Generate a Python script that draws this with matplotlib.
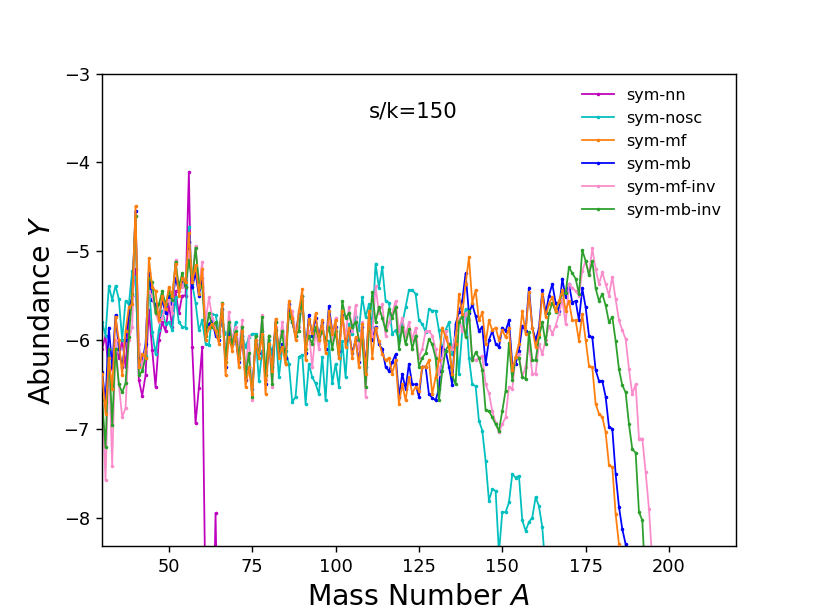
import numpy as np
import matplotlib.pyplot as plt

A0 = 30  # first mass number in every series

sym_nn = [
    -6.10, -5.95, -6.40, -6.30, -6.10, -6.20, -6.00, -6.30, -5.78, -5.50,
    -5.20, -6.45, -6.63, -6.40, -5.66, -6.11, -6.53, -6.00, -5.80, -5.90,
    -5.60, -5.85, -5.45, -5.70, -5.50, -5.50, -4.11, -6.08, -6.94, -6.54,
    -6.08, -9.00, -10.0, -10.0, -7.95, -10.0,
]

sym_nosc = [
    -5.80, -5.95, -5.39, -5.55, -5.39, -5.54, -6.00, -5.56, -5.60, -5.22,
    -5.30, -6.27, -6.33, -6.18, -5.35, -5.91, -6.16, -5.89, -5.67, -5.82,
    -5.80, -5.89, -5.52, -5.80, -5.85, -5.86, -4.73, -5.37, -5.58, -5.89,
    -5.78, -6.04, -6.06, -5.71, -5.72, -5.89, -5.82, -5.93, -5.89, -6.04,
    -5.80, -6.19, -5.95, -6.08, -5.97, -5.93, -5.93, -6.46, -6.12, -6.34,
    -6.00, -6.16, -5.89, -6.42, -6.08, -6.12, -6.27, -6.70, -6.64, -6.19,
    -6.17, -6.72, -6.27, -6.42, -6.49, -6.61, -6.19, -6.68, -6.01, -6.49,
    -6.27, -6.53, -6.01, -6.42, -5.82, -5.93, -5.74, -5.89, -5.52, -5.74,
    -5.60, -5.85, -5.14, -5.41, -5.18, -5.56, -5.58, -5.93, -5.89, -6.00,
    -5.82, -5.63, -5.44, -5.44, -5.48, -5.78, -5.82, -5.91, -5.65, -5.67,
    -5.67, -5.89, -6.12, -5.89, -5.80, -6.16, -5.89, -6.38, -5.89, -5.65,
    -6.20, -6.50, -6.52, -6.91, -7.02, -7.36, -7.81, -7.68, -7.70, -8.40,
    -7.94, -7.94, -7.83, -7.51, -7.55, -7.53, -8.03, -8.15, -8.05, -8.00,
    -7.77, -7.87, -8.11, -8.60,
]

sym_mf = [
    -6.38, -6.83, -6.20, -6.55, -5.74, -6.00, -6.40, -5.90, -5.63, -5.60,
    -4.49, -6.30, -6.16, -6.20, -5.08, -5.40, -5.45, -5.78, -5.50, -5.65,
    -5.40, -5.50, -5.15, -5.50, -5.30, -5.35, -4.80, -5.35, -5.16, -5.48,
    -5.20, -6.00, -5.86, -5.82, -5.90, -6.04, -5.59, -6.40, -5.97, -6.12,
    -5.93, -6.31, -5.90, -6.53, -6.31, -6.61, -6.00, -6.20, -5.93, -6.61,
    -6.04, -6.35, -5.76, -6.20, -6.08, -6.27, -5.56, -5.75, -6.00, -5.67,
    -5.43, -6.23, -5.76, -5.92, -5.70, -6.00, -5.78, -6.15, -5.67, -5.93,
    -5.78, -6.20, -5.67, -6.08, -5.86, -6.20, -5.97, -6.31, -5.82, -6.38,
    -5.67, -6.20, -5.86, -6.01, -6.16, -6.23, -6.20, -6.38, -6.23, -6.72,
    -6.50, -6.68, -6.42, -6.60, -6.53, -6.57, -6.30, -6.30, -6.23, -6.61,
    -6.42, -6.23, -5.86, -5.97, -6.08, -6.38, -6.04, -5.48, -5.71, -5.37,
    -5.07, -5.58, -5.44, -5.78, -5.69, -6.04, -5.78, -5.89, -5.86, -6.00,
    -5.89, -5.97, -5.87, -6.34, -6.19, -6.04, -5.67, -5.93, -5.46, -5.86,
    -6.08, -5.93, -5.48, -5.74, -5.59, -5.52, -5.67, -5.56, -5.44, -5.67,
    -5.56, -5.78, -5.78, -6.01, -5.71, -6.00, -6.29, -6.31, -6.72, -6.83,
    -6.87, -7.04, -7.41, -7.43, -7.96, -8.30, -8.90,
]

sym_mb = [
    -6.36, -6.70, -5.86, -6.30, -5.72, -6.10, -6.30, -6.00, -5.70, -5.50,
    -4.55, -6.20, -6.25, -6.05, -5.25, -5.55, -5.60, -5.75, -5.55, -5.70,
    -5.50, -5.60, -5.30, -5.45, -5.35, -5.40, -4.90, -5.40, -5.25, -5.50,
    -5.30, -5.90, -5.82, -5.78, -5.95, -6.00, -5.65, -6.30, -5.90, -6.05,
    -5.98, -6.25, -5.95, -6.45, -6.30, -6.55, -6.05, -6.15, -5.90, -6.50,
    -6.10, -6.30, -5.80, -6.15, -6.05, -6.20, -5.60, -5.80, -5.95, -5.70,
    -5.50, -6.15, -5.72, -5.95, -5.75, -5.95, -5.80, -6.10, -5.62, -5.90,
    -5.85, -6.12, -5.72, -6.00, -5.90, -6.15, -6.00, -6.25, -5.85, -6.30,
    -5.75, -6.00, -5.85, -6.05, -6.10, -6.30, -6.35, -6.25, -6.16, -6.64,
    -6.38, -6.55, -6.27, -6.50, -6.50, -6.64, -6.30, -6.30, -6.61, -6.65,
    -6.68, -6.55, -6.08, -6.12, -6.30, -6.51, -5.82, -5.69, -5.56, -5.25,
    -5.70, -5.60, -5.73, -5.90, -5.85, -6.27, -6.00, -5.90, -6.04, -6.08,
    -5.86, -5.90, -5.78, -6.27, -6.27, -6.12, -5.84, -5.90, -5.41, -5.86,
    -6.00, -5.87, -5.44, -5.70, -5.50, -5.37, -5.58, -5.67, -5.31, -5.52,
    -5.37, -5.58, -5.56, -5.78, -5.42, -5.63, -5.95, -5.97, -6.34, -6.46,
    -6.46, -6.64, -6.98, -7.00, -7.51, -7.88, -8.13, -8.30, -8.90,
]

sym_mf_inv = [
    -6.60, -7.58, -6.20, -7.42, -6.00, -6.50, -6.87, -6.77, -6.00, -5.85,
    -4.60, -6.05, -6.30, -6.10, -5.45, -5.50, -5.70, -5.80, -5.75, -5.60,
    -5.55, -5.70, -5.10, -5.45, -5.40, -5.30, -5.00, -5.30, -4.94, -5.40,
    -5.12, -5.80, -5.52, -5.75, -5.85, -5.90, -5.60, -6.20, -5.69, -6.00,
    -5.85, -6.10, -5.78, -6.35, -5.95, -6.68, -6.00, -6.10, -5.72, -6.45,
    -5.95, -6.53, -5.85, -6.10, -5.80, -6.05, -5.75, -5.67, -5.90, -5.85,
    -5.55, -6.05, -5.90, -6.31, -5.90, -6.10, -5.85, -6.05, -5.80, -6.00,
    -5.75, -6.20, -5.75, -5.95, -5.63, -5.90, -5.61, -6.10, -5.80, -6.64,
    -5.85, -5.95, -5.39, -5.70, -5.60, -5.95, -5.80, -5.70, -5.56, -5.90,
    -5.75, -5.95, -5.80, -6.00, -5.86, -6.20, -6.10, -5.90, -5.90, -5.95,
    -6.10, -6.38, -6.20, -5.90, -6.05, -6.10, -5.95, -5.75, -5.90, -5.70,
    -5.78, -6.20, -6.23, -6.20, -6.18, -6.50, -6.60, -6.80, -6.93, -7.04,
    -6.95, -6.87, -6.53, -6.55, -6.19, -6.16, -6.42, -6.30, -6.04, -6.38,
    -6.38, -6.04, -6.16, -6.00, -5.84, -5.93, -5.84, -5.71, -5.54, -5.82,
    -5.37, -5.41, -5.45, -5.50, -5.22, -5.11, -5.26, -4.97, -5.20, -5.37,
    -5.24, -5.37, -5.50, -5.29, -5.54, -5.78, -5.89, -5.99, -6.33, -6.61,
    -6.50, -7.11, -7.11, -7.49, -7.90, -8.50,
]

sym_mb_inv = [
    -6.68, -7.21, -6.10, -6.96, -6.10, -6.50, -6.59, -6.49, -5.97, -5.48,
    -4.60, -6.40, -6.35, -6.20, -5.30, -5.35, -5.70, -5.60, -5.45, -5.60,
    -5.45, -5.55, -5.12, -5.40, -5.25, -5.40, -5.10, -5.35, -4.96, -5.35,
    -5.40, -5.95, -5.70, -5.85, -5.80, -5.95, -5.58, -6.25, -5.80, -6.05,
    -5.90, -6.20, -5.85, -6.40, -6.15, -6.64, -5.95, -6.20, -5.74, -6.40,
    -5.95, -6.50, -5.80, -6.10, -5.90, -6.27, -5.70, -5.80, -5.95, -5.90,
    -5.50, -6.10, -5.95, -6.05, -5.85, -6.00, -5.90, -6.00, -5.85, -6.10,
    -5.90, -6.20, -5.56, -5.75, -5.70, -5.85, -5.80, -6.00, -6.00, -6.53,
    -5.90, -5.46, -5.80, -5.63, -5.75, -5.89, -5.65, -5.75, -5.63, -6.10,
    -5.85, -6.05, -5.88, -6.10, -5.95, -6.30, -6.20, -6.15, -5.99, -6.05,
    -6.20, -6.68, -6.35, -6.12, -6.05, -6.40, -6.50, -5.80, -5.73, -5.97,
    -5.67, -6.23, -6.14, -6.20, -6.34, -6.79, -6.80, -6.87, -6.95, -7.02,
    -6.80, -6.57, -6.03, -6.45, -6.19, -6.20, -6.42, -6.44, -5.91, -6.23,
    -6.23, -5.97, -5.80, -6.04, -5.70, -5.58, -5.68, -5.57, -5.48, -5.47,
    -5.18, -5.25, -5.31, -5.48, -4.99, -5.11, -5.27, -5.11, -5.42, -5.56,
    -5.48, -5.61, -5.80, -5.74, -6.01, -6.33, -6.51, -6.59, -6.95, -7.23,
    -7.27, -7.94, -8.03, -8.80,
]

series = [
    ("sym-nn", sym_nn, "m", 2),
    ("sym-nosc", sym_nosc, "c", 2),
    ("sym-mf", sym_mf, "tab:orange", 3),
    ("sym-mb", sym_mb, "b", 2),
    ("sym-mf-inv", sym_mf_inv, "#fb8ccb", 2),
    ("sym-mb-inv", sym_mb_inv, "tab:green", 2),
]

fig, ax = plt.subplots(figsize=(6.4, 4.8))

for label, vals, color, z in series:
    mass = np.arange(A0, A0 + len(vals))
    ax.plot(mass, vals, color=color, marker='.', markersize=2,
            linewidth=1.0, label=label, zorder=z)

ax.set_xlim(30, 220)
ax.set_ylim(-8.315, -3)
ax.set_xlabel('Mass Number $A$', fontsize=16)
ax.set_ylabel('Abundance $Y$', fontsize=16)
ax.text(110, -3.5, 's/k=150', fontsize=12)
ax.legend(loc='upper right', fontsize=9, frameon=False)

plt.savefig('out.png', dpi=127.72)
